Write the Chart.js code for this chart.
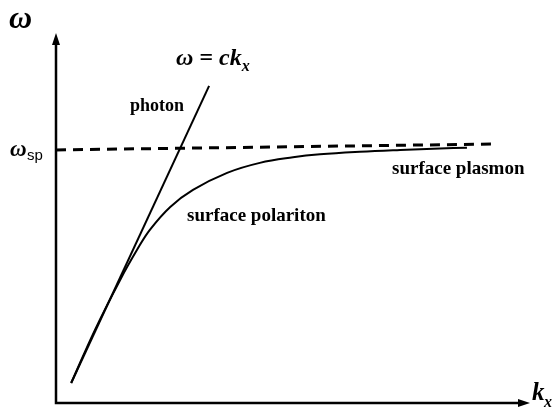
<!DOCTYPE html>
<html>
<head>
<meta charset="utf-8">
<title>Surface plasmon dispersion</title>
<script src="https://cdn.jsdelivr.net/npm/chart.js@4/dist/chart.umd.min.js"></script>
<style>
  html, body { margin: 0; padding: 0; background: #fff; }
  canvas { display: block; }
</style>
</head>
<body>
<canvas id="chartDispersao" width="553" height="416"></canvas>
<script>
// light line  w = c kx
var photonK = [3.2, 32.3];
var photonW = [5.4, 85.7];

// surface polariton branch, bends over towards w_sp
var polaritonK = [3.2, 8.2, 13.5, 17.1, 19.8, 24.1, 28.9, 36.1, 43.0, 50.0, 55.7, 64.1, 72.6, 81.0, 86.7];
var polaritonW = [5.4, 19.7, 33.2, 41.4, 46.8, 53.0, 57.6, 62.2, 64.9, 66.4, 67.2, 67.9, 68.4, 68.8, 69.0];

// asymptote w_sp
var spK = [0, 92.6];
var spW = [68.4, 70.0];

function pontos(xs, ys) {
    return xs.map(function (x, i) { return { x: x, y: ys[i] }; });
}

var serif = '"Liberation Serif", "Times New Roman", serif';

// axes with arrow heads + all the labels
var eixos = {
    id: 'eixos',
    afterDraw: function (chart) {
        var ctx = chart.ctx;
        var xs = chart.scales.x, ys = chart.scales.y;
        var x0 = xs.getPixelForValue(0), y0 = ys.getPixelForValue(0);
        var xEnd = xs.getPixelForValue(100), yEnd = ys.getPixelForValue(100);

        ctx.save();
        ctx.strokeStyle = '#000';
        ctx.fillStyle = '#000';
        ctx.lineWidth = 2.5;
        ctx.lineCap = 'square';
        ctx.beginPath();
        ctx.moveTo(x0, yEnd + 8);
        ctx.lineTo(x0, y0);
        ctx.lineTo(xEnd - 8, y0);
        ctx.stroke();

        ctx.beginPath();
        ctx.moveTo(x0, yEnd);
        ctx.lineTo(x0 - 4, yEnd + 12);
        ctx.lineTo(x0 + 4, yEnd + 12);
        ctx.closePath();
        ctx.fill();

        ctx.beginPath();
        ctx.moveTo(xEnd, y0);
        ctx.lineTo(xEnd - 12, y0 - 4);
        ctx.lineTo(xEnd - 12, y0 + 4);
        ctx.closePath();
        ctx.fill();

        ctx.textBaseline = 'alphabetic';
        ctx.textAlign = 'left';

        ctx.font = 'bold italic 32px ' + serif;
        ctx.fillText('ω', 9, 28);

        ctx.font = 'bold italic 24px ' + serif;
        ctx.fillText('ω = ck', 176, 65);
        var w = ctx.measureText('ω = ck').width;
        ctx.font = 'bold italic 16px ' + serif;
        ctx.fillText('x', 176 + w, 71);

        ctx.font = 'bold italic 23px ' + serif;
        ctx.fillText('ω', 10, 156);
        ctx.font = '15px "Liberation Sans", Arial, sans-serif';
        ctx.fillText('sp', 27, 160);

        ctx.font = 'bold italic 25px ' + serif;
        ctx.fillText('k', 532, 400);
        ctx.font = 'bold italic 16px ' + serif;
        ctx.fillText('x', 544, 407);

        ctx.font = 'bold 18px ' + serif;
        ctx.fillText('photon', 130, 111);
        ctx.font = 'bold 19px ' + serif;
        ctx.fillText('surface polariton', 187, 221);
        ctx.fillText('surface plasmon', 392, 174);
        ctx.restore();
    }
};

var ctx = document.getElementById('chartDispersao').getContext('2d');
var grafico = new Chart(ctx, {
    type: 'scatter',
    data: {
        datasets: [{
            label: 'photon',
            data: pontos(photonK, photonW),
            showLine: true,
            borderColor: '#000',
            borderWidth: 2,
            pointRadius: 0
        }, {
            label: 'surface polariton',
            data: pontos(polaritonK, polaritonW),
            showLine: true,
            borderColor: '#000',
            borderWidth: 2,
            pointRadius: 0,
            tension: 0.4
        }, {
            label: 'w_sp',
            data: pontos(spK, spW),
            showLine: true,
            borderColor: '#000',
            borderWidth: 3,
            borderDash: [10, 7],
            pointRadius: 0
        }]
    },
    options: {
        responsive: false,
        animation: false,
        layout: {
            padding: { left: 56, right: 23, top: 33, bottom: 13 }
        },
        plugins: {
            legend: { display: false },
            tooltip: { enabled: false }
        },
        scales: {
            x: { type: 'linear', min: 0, max: 100, display: false },
            y: { type: 'linear', min: 0, max: 100, display: false }
        }
    },
    plugins: [eixos]
});
</script>
</body>
</html>
